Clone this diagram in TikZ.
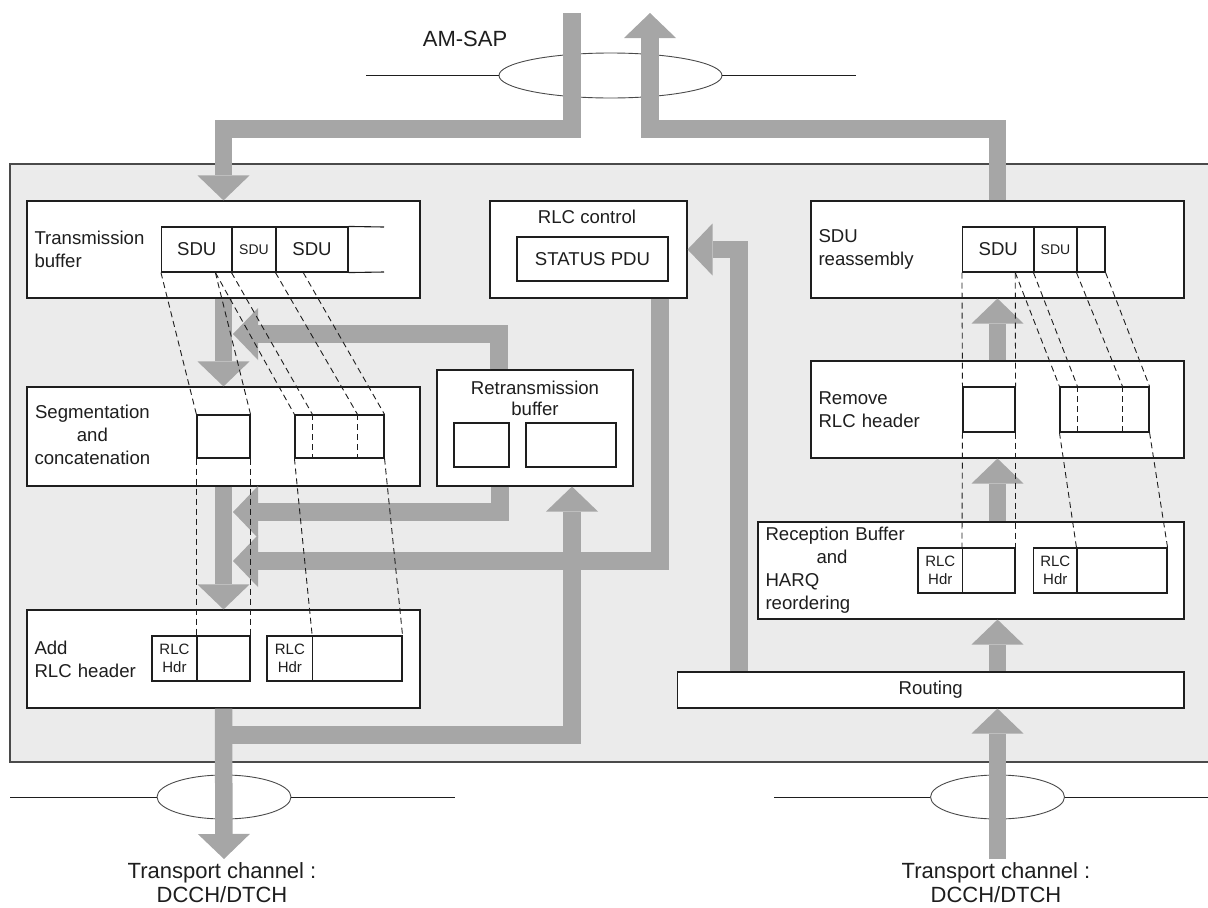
\documentclass[tikz,border=0pt]{standalone}
\usepackage{fontspec}
\setmainfont{Liberation Sans}
\usetikzlibrary{arrows.meta, calc, shapes.geometric}
\definecolor{FrameGray}{HTML}{EBEBEB}
\definecolor{FlowGray}{HTML}{A6A6A6}
\definecolor{InkGray}{HTML}{1E1E1E}
\definecolor{EdgeGray}{HTML}{4A4A4A}
\tikzset{
  frame/.style={fill=FrameGray, draw=EdgeGray, line width=1.3pt},
  block/.style={draw=InkGray, fill=white, line width=1.1pt, inner sep=0pt, inner xsep=7.5pt, minimum height=97pt, align=left, text=InkGray, font=\fontsize{18.6pt}{23pt}\selectfont},
  cell/.style={draw=InkGray, fill=white, line width=1.1pt, inner sep=0pt, minimum height=45pt, text=InkGray, font=\fontsize{18.6pt}{23pt}\selectfont},
  smallcell/.style={cell, font=\fontsize{14pt}{17pt}\selectfont},
  hdrcell/.style={cell, align=center, font=\fontsize{15pt}{18.5pt}\selectfont},
  caption/.style={text=InkGray, align=center, inner sep=0pt, font=\fontsize{18.6pt}{21pt}\selectfont},
  title/.style={text=InkGray, align=center, inner sep=0pt, font=\fontsize{22pt}{24pt}\selectfont},
  sap/.style={ellipse, draw=EdgeGray, line width=0.9pt, inner sep=0pt},
  sapline/.style={draw=InkGray, line width=1pt},
  pipe/.style={draw=FlowGray, line width=17.5pt},
  flow/.style={pipe, -{Triangle[length=25pt, width=52pt, line width=0pt]}},
  trace/.style={draw=InkGray, line width=0.9pt, dash pattern=on 6pt off 4pt}
}

\begin{document}
\begin{tikzpicture}[x=1pt, y=-1pt]
\useasboundingbox (0,0) rectangle (1208,908);

% RLC entity
\draw[frame] (10,164) rectangle (1225,762);

% access points
\node[sap, minimum width=223pt, minimum height=45pt] (amsap) at (610.5,75.5) {};
\node[sap, minimum width=134pt, minimum height=44pt] (chtx) at (224,797) {};
\node[sap, minimum width=134pt, minimum height=44pt] (chrx) at (997.5,797) {};
\draw[sapline] (amsap.west) -- ++(-133,0);
\draw[sapline] (amsap.east) -- ++(134,0);
\draw[sapline] (chtx.west) -- ++(-147,0);
\draw[sapline] (chtx.east) -- ++(164,0);
\draw[sapline] (chrx.west) -- ++(-156,0);
\draw[sapline] (chrx.east) -- ++(160,0);
\node[title] (amlbl) at (465,39) {AM-SAP};
\node[title] (txlbl) at (222,883) {Transport channel :\\DCCH/DTCH};
\node[title] (rxlbl) at (996,883) {Transport channel :\\DCCH/DTCH};

% transmitting side
\node[block, minimum width=393pt, text width=378pt] (txbuf) at (223.5,249.5) {Transmission\\buffer};
\node[block, minimum width=393pt, minimum height=99pt, text width=378pt] (seg) at (223.5,436.5) {\begin{tabular}{@{}c@{}}Segmentation\\and\\concatenation\end{tabular}};
\node[block, minimum width=393pt, minimum height=98pt, text width=378pt] (addhdr) at (223.5,659) {Add\\RLC header};
\node[block, minimum width=197pt] (rlcctl) at (588.5,249.5) {};
\node[caption] (ctllbl) at (587,217) {RLC control};
\node[cell, minimum width=151pt, minimum height=44pt] (stpdu) at (592.5,259) {STATUS PDU};
\node[block, minimum width=196pt, minimum height=116pt] (retx) at (535,428) {};
\node[caption] (retxlbl) at (535,398.5) {Retransmission\\buffer};
\node[cell, minimum width=55pt, minimum height=44pt] (rb1) at (481.5,445) {};
\node[cell, minimum width=90pt, minimum height=44pt] (rb2) at (571,445) {};

% SDUs in transmission buffer
\node[cell, minimum width=70.5pt] (c1) at (196.75,249.5) {SDU};
\node[smallcell, minimum width=44pt] (c2) at (254,249.5) {SDU};
\node[cell, minimum width=72pt] (c3) at (312,249.5) {SDU};
\coordinate (openA) at (384,227);
\coordinate (openB) at (384,272);
\draw[sapline, line width=1.1pt] (c3.north east) -- (openA);
\draw[sapline, line width=1.1pt] (c3.south east) -- (openB);

% segments and PDUs
\node[cell, minimum width=53pt, minimum height=43pt] (sl) at (223.5,436.5) {};
\node[cell, minimum width=89pt, minimum height=43pt] (sr) at (339.5,436.5) {};
\node[hdrcell, minimum width=45pt] (h1) at (174.5,658.5) {RLC\\Hdr};
\node[cell, minimum width=53pt] (d1) at (223.5,658.5) {};
\node[hdrcell, minimum width=45.7pt] (h2) at (289.85,658.5) {RLC\\Hdr};
\node[cell, minimum width=89.3pt] (d2) at (357.35,658.5) {};

% receiving side
\node[block, minimum width=373pt, text width=358pt] (reasm) at (997.5,249.5) {SDU\\reassembly};
\node[block, minimum width=373pt, text width=358pt] (rmhdr) at (997.5,409.5) {Remove\\RLC header};
\node[block, minimum width=426pt, text width=411pt] (recv) at (971,570.5) {Reception Buffer\\\hspace*{51pt}and\\HARQ\\reordering};
\node[block, minimum width=506.5pt, minimum height=36pt, align=center, inner xsep=0pt] (routing) at (930.75,690) {Routing};

\node[cell, minimum width=71.5pt] (r1) at (998.25,249.5) {SDU};
\node[smallcell, minimum width=43pt] (r2) at (1055.5,249.5) {SDU};
\node[cell, minimum width=28pt] (r3) at (1091,249.5) {};
\node[cell, minimum width=52pt] (rl) at (989,409.5) {};
\node[cell, minimum width=89pt] (rr) at (1104.5,409.5) {};
\node[hdrcell, minimum width=44.5pt] (q1h) at (940.25,570.5) {RLC\\Hdr};
\node[cell, minimum width=52.5pt] (q1d) at (988.75,570.5) {};
\node[hdrcell, minimum width=43.5pt] (q2h) at (1055.25,570.5) {RLC\\Hdr};
\node[cell, minimum width=90pt] (q2d) at (1122,570.5) {};

% data flow
\coordinate (sapin) at (572,13);
\coordinate (sapout) at (650,13);
\coordinate (txout) at (224,859);
\coordinate (rxin) at (997.5,859);
\coordinate (fork) at (224,735);
\coordinate (inA) at (233,334);
\coordinate (inB) at (233,512);
\coordinate (inC) at (233,561);
\draw[flow] (sapin) -- (572,129) -| (txbuf.north);
\draw[flow] (reasm.north) -- (997.5,129) -| (sapout);
\draw[flow] (txbuf.south) -- (seg.north);
\draw[flow] (seg.south) -- (addhdr.north);
\draw[flow] (addhdr.south) -- (txout);
\draw[flow] (fork) -| ([xshift=37pt]retx.south);
\draw[flow] ([xshift=-36pt]retx.north) |- (inA);
\draw[flow] ([xshift=-35pt]retx.south) |- (inB);
\draw[flow] ([xshift=71.5pt]rlcctl.south) |- (inC);
\draw[flow] ([xshift=-191.75pt]routing.north) |- (rlcctl.east);
\draw[flow] (rxin) -- (routing.south -| rxin);
\draw[flow] (routing.north -| rmhdr.south) -- (recv.south -| rmhdr.south);
\draw[flow] (recv.north -| rmhdr.south) -- (rmhdr.south);
\draw[flow] (rmhdr.north) -- (reasm.south);

% segment traces
\coordinate (cut1) at ($(c1.south west)!0.76!(c1.south east)$);
\coordinate (cut2) at ($(c3.south west)!0.38!(c3.south east)$);
\coordinate (rcut) at ($(r1.south west)!0.734!(r1.south east)$);
\draw[trace] ($(sr.north west)!0.2!(sr.north east)$) -- ($(sr.south west)!0.2!(sr.south east)$);
\draw[trace] ($(sr.north west)!0.7!(sr.north east)$) -- ($(sr.south west)!0.7!(sr.south east)$);
\draw[trace] ($(rr.north west)!0.2!(rr.north east)$) -- ($(rr.south west)!0.2!(rr.south east)$);
\draw[trace] ($(rr.north west)!0.7!(rr.north east)$) -- ($(rr.south west)!0.7!(rr.south east)$);

\draw[trace] (c1.south west) -- (sl.north west);
\draw[trace] (cut1) -- (sl.north east);
\draw[trace] (cut1) -- (sr.north west);
\draw[trace] (c2.south west) -- ($(sr.north west)!0.2!(sr.north east)$);
\draw[trace] (c3.south west) -- ($(sr.north west)!0.7!(sr.north east)$);
\draw[trace] (cut2) -- (sr.north east);
\draw[trace] (sl.south west) -- (d1.north west);
\draw[trace] (sl.south east) -- (d1.north east);
\draw[trace] (sr.south west) -- (d2.north west);
\draw[trace] (sr.south east) -- (d2.north east);

\draw[trace] (r1.south west) -- (rl.north west);
\draw[trace] (rcut) -- (rl.north east);
\draw[trace] (rcut) -- (rr.north west);
\draw[trace] (r2.south west) -- ($(rr.north west)!0.2!(rr.north east)$);
\draw[trace] (r3.south west) -- ($(rr.north west)!0.7!(rr.north east)$);
\draw[trace] (r3.south east) -- (rr.north east);
\draw[trace] (rl.south west) -- (q1d.north west);
\draw[trace] (rl.south east) -- (q1d.north east);
\draw[trace] (rr.south west) -- (q2d.north west);
\draw[trace] (rr.south east) -- (q2d.north east);
\end{tikzpicture}
\end{document}
